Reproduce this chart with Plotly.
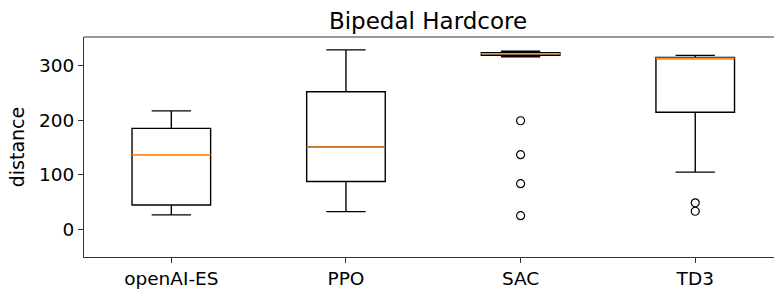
import plotly.graph_objects as go

categories = ["openAI-ES", "PPO", "SAC", "TD3"]
lower_whisker = [27, 33, 316, 105]
q1 = [45, 88, 318.5, 214.6]
median = [137, 151, 321.5, 313.3]
q3 = [185, 252, 323.5, 314.5]
upper_whisker = [217, 328.5, 326, 318.5]
outliers = {
    "openAI-ES": [],
    "PPO": [],
    "SAC": [199, 137, 84, 25.6],
    "TD3": [49, 33.6],
}
y_ticks = [0, 100, 200, 300]

positions = list(range(len(categories)))
box_width = 0.45
FONT = "DejaVu Sans"

fig = go.Figure()
fig.add_trace(go.Box(
    x=positions, q1=q1, median=median, q3=q3,
    lowerfence=lower_whisker, upperfence=upper_whisker,
    width=box_width, whiskerwidth=0.5,
    fillcolor="rgba(0,0,0,0)",
    line=dict(color="black", width=1.4),
    boxpoints=False, showlegend=False, hoverinfo="skip",
))

# orange median lines
mx, my = [], []
for p, m in zip(positions, median):
    mx += [p - box_width / 2, p + box_width / 2, None]
    my += [m, m, None]
fig.add_trace(go.Scatter(x=mx, y=my, mode="lines",
                         line=dict(color="#ff8f2e", width=1.5),
                         showlegend=False, hoverinfo="skip"))

# outliers
ox, oy = [], []
for p, c in zip(positions, categories):
    for v in outliers[c]:
        ox.append(p)
        oy.append(v)
fig.add_trace(go.Scatter(x=ox, y=oy, mode="markers",
                         marker=dict(symbol="circle-open", size=8, color="black",
                                     line=dict(width=1.2)),
                         showlegend=False, hoverinfo="skip"))

fig.update_layout(
    width=774, height=289,
    margin=dict(l=84, r=0, t=37, b=32),
    paper_bgcolor="white", plot_bgcolor="white",
    font=dict(family=FONT, size=18.5, color="black"),
    title=dict(text="Bipedal Hardcore", x=0.553, xanchor="center",
               y=1 - 21 / 289, yanchor="middle", yref="container",
               font=dict(family=FONT, size=23, color="black")),
    xaxis=dict(range=[-0.5, 3.451], tickvals=positions, ticktext=categories,
               showgrid=False, zeroline=False, showline=True, linecolor="#333",
               linewidth=1.1, mirror=False, ticks="outside", ticklen=5,
               tickcolor="#333", tickfont=dict(size=18.5)),
    yaxis=dict(range=[-50, 352], tickvals=y_ticks, showgrid=False, zeroline=False,
               showline=True, linecolor="#333", linewidth=1.1, ticks="outside",
               ticklen=5, tickcolor="#333", tickfont=dict(size=18.5), mirror=False,
               title=dict(text="distance", font=dict(size=19), standoff=9)),
    shapes=[dict(type="line", xref="paper", yref="paper", x0=0, x1=1, y0=1, y1=1,
                 line=dict(color="#333", width=1.1), layer="above")],
)

fig.write_html(
    "out.html", config={"displayModeBar": False},
    post_script=("document.documentElement.style.margin='0';"
                 "document.documentElement.style.overflow='hidden';"
                 "document.body.style.margin='0';document.body.style.padding='0';"
                 "document.body.style.overflow='hidden';"))
